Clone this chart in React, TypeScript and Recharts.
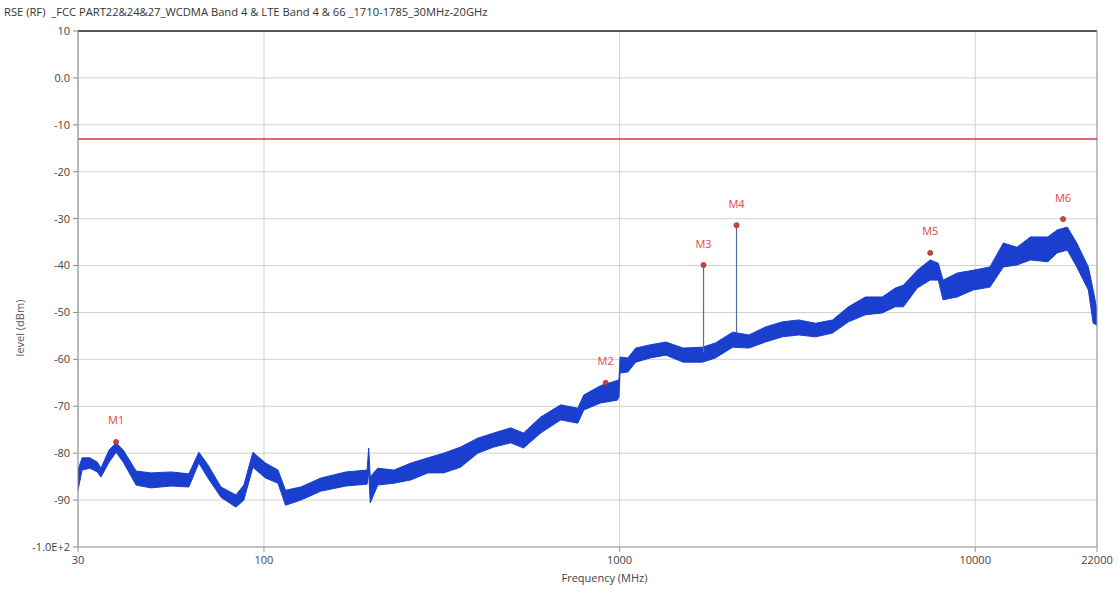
import React from 'react';
import {
    ComposedChart,
    Area,
    Scatter,
    XAxis,
    YAxis,
    CartesianGrid,
    ReferenceLine,
    LabelList,
} from 'recharts';

const title = 'RSE (RF)  _FCC PART22&24&27_WCDMA Band 4 & LTE Band 4 & 66 _1710-1785_30MHz-20GHz';

// trace envelope (MHz, dBm)
const freqs = [
    30, 30.8, 32.4, 34, 34.8, 36.7, 38.4, 40.2, 43.7, 48.1, 54.8, 61.5, 65.6, 69.6, 75.7, 83.4, 87.8, 93.1,
    101, 109.5, 115, 127, 144.5, 170, 195, 197, 199, 209, 232, 259, 289, 320, 357, 399, 443, 494, 537, 600,
    683, 763, 793, 884, 985, 996, 1003, 1055, 1110, 1220, 1350, 1510, 1710, 1860, 2080, 2310, 2570, 2870,
    3190, 3560, 3970, 4400, 4910, 5480, 5960, 6280, 6870, 7470, 7870, 8120, 8900, 9870, 11000, 12000, 13100,
    14300, 16000, 17000, 18150, 19300, 20800, 21460, 22000,
];
const lows = [
    -87.9, -83.6, -83.2, -84.0, -85.1, -81.9, -79.8, -81.9, -86.8, -87.4, -87.0, -87.2, -82.1, -85.3, -89.4,
    -91.5, -90.0, -83.0, -85.3, -86.4, -91.1, -90.0, -88.1, -87.0, -86.6, -84.0, -90.6, -86.8, -86.4, -85.7,
    -84.2, -84.2, -83.0, -80.0, -78.7, -77.8, -78.9, -75.7, -72.9, -73.6, -70.8, -69.3, -68.7, -68.0, -62.9,
    -62.7, -60.6, -59.7, -59.1, -60.6, -60.6, -59.7, -57.4, -57.6, -56.3, -55.2, -54.8, -55.2, -54.4, -52.0,
    -50.5, -50.1, -48.8, -48.8, -44.8, -43.1, -43.1, -47.3, -46.7, -45.2, -44.6, -40.3, -39.9, -38.8, -39.2,
    -37.3, -36.7, -40.3, -45.2, -52.3, -52.7,
];
const highs = [
    -83.6, -81.0, -81.0, -81.9, -83.2, -79.3, -77.8, -79.3, -83.8, -84.2, -84.0, -84.4, -79.8, -82.5, -87.2,
    -88.9, -86.8, -79.8, -82.1, -83.6, -87.9, -87.2, -85.3, -84.0, -83.6, -78.9, -85.0, -83.2, -83.6, -82.1,
    -81.0, -80.0, -78.7, -76.8, -75.7, -74.6, -75.7, -72.3, -69.7, -70.4, -67.6, -65.6, -64.5, -64.3, -59.5,
    -59.7, -57.6, -56.9, -56.3, -57.6, -57.4, -56.5, -54.2, -54.8, -53.1, -52.0, -51.6, -52.3, -51.6, -48.8,
    -46.7, -46.7, -44.8, -44.2, -41.0, -38.8, -39.5, -43.1, -41.6, -41.0, -40.3, -35.2, -36.1, -33.9, -33.9,
    -32.4, -31.8, -35.2, -40.3, -45.2, -49.5,
];

const markerNames = ['M1', 'M2', 'M3', 'M4', 'M5', 'M6'];
const markerFreqs = [38.4, 914, 1722, 2132, 7473, 17660];
const markerLevels = [-77.6, -65.0, -39.9, -31.4, -37.3, -30.1];

// narrow spurs that rise out of the trace up to M3 and M4
const spurFreqs = [1722, 2132];
const spurBase = [-58.5, -54.5];
const spurTop = [-39.9, -31.4];

const limitLevel = -13;
const xTicks = [30, 100, 1000, 10000, 22000];
const yTicks = [10, 0, -10, -20, -30, -40, -50, -60, -70, -80, -90, -100];

const traceData = freqs.map((f, i) => ({ freq: f, band: [lows[i], highs[i]] }));
const markers = markerNames.map((n, i) => ({ name: n, freq: markerFreqs[i], level: markerLevels[i] }));

const fmtY = (v: number) => {
    if (v === 0) return '0.0';
    if (v === -100) return '-1.0E+2';
    return String(v);
};

const MarkerDot = (props: any) => {
    const { cx, cy } = props;
    return <circle cx={cx} cy={cy} r={2.5} fill="#e03a3a" stroke="#8a3030" strokeWidth={0.8} />;
};

const font = '"Open Sans", "Noto Sans", sans-serif';

const App = () => {
    return (
        <div style={{ position: 'absolute', left: 0, top: 0, width: 1117, height: 593, fontFamily: font }}>
            <div style={{ position: 'absolute', left: 4, top: 4, fontSize: 11.2, color: '#333', whiteSpace: 'pre' }}>
                {title}
            </div>
            <ComposedChart
                width={1117}
                height={593}
                data={traceData}
                margin={{ top: 31, right: 20, bottom: 0, left: 0 }}
                style={{ fontFamily: font }}
            >
                <CartesianGrid stroke="#d2d2d2" strokeWidth={1} />
                <XAxis
                    dataKey="freq"
                    type="number"
                    scale="log"
                    domain={[30, 22000]}
                    ticks={xTicks}
                    allowDataOverflow
                    height={46}
                    stroke="#9a9a9a"
                    tickSize={5}
                    tickMargin={4}
                    tick={{ fontSize: 11, fill: '#444' }}
                    label={{ value: 'Frequency (MHz)', position: 'insideBottom', offset: 11, dx: 17, fontSize: 11, fill: '#444' }}
                />
                <YAxis
                    type="number"
                    domain={[-100, 10]}
                    ticks={yTicks}
                    tickFormatter={fmtY}
                    width={78}
                    stroke="#8a8a8a"
                    tickSize={5}
                    tickMargin={3}
                    tick={{ fontSize: 11, fill: '#444' }}
                    label={{ value: 'level (dBm)', angle: -90, position: 'center', dx: -19, dy: 39, fontSize: 11, fill: '#555' }}
                />
                <ReferenceLine y={10} stroke="#555" strokeWidth={2} />
                <ReferenceLine x={22000} stroke="#9a9a9a" />
                <ReferenceLine y={limitLevel} stroke="#d23a3a" strokeWidth={1.5} />
                {spurFreqs.map((f, i) => (
                    <ReferenceLine
                        key={f}
                        segment={[{ x: f, y: spurBase[i] }, { x: f, y: spurTop[i] }]}
                        stroke="#5a6a9c"
                        strokeWidth={1.2}
                    />
                ))}
                <Area
                    dataKey="band"
                    type="linear"
                    stroke="#1a3fcf"
                    strokeWidth={1}
                    fill="#1a3fcf"
                    fillOpacity={1}
                    isAnimationActive={false}
                    dot={false}
                    activeDot={false}
                />
                <Scatter data={markers} dataKey="level" shape={<MarkerDot />} isAnimationActive={false}>
                    <LabelList dataKey="name" position="top" offset={13} fontSize={11} fill="#e04848" />
                </Scatter>
            </ComposedChart>
        </div>
    );
};

export default App;
